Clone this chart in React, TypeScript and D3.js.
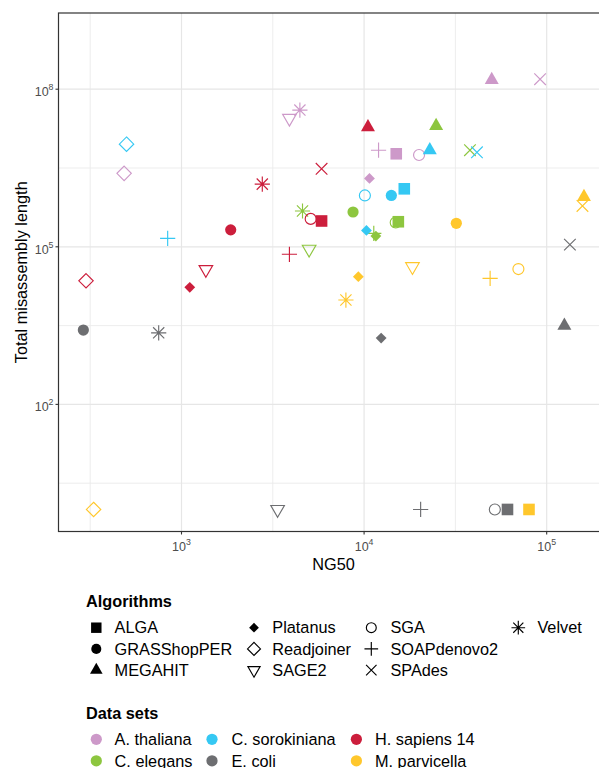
import React from "react";
import * as d3 from "d3";

// categories
const algorithms = ["ALGA", "GRASShopPER", "MEGAHIT", "Platanus", "Readjoiner", "SAGE2", "SGA", "SOAPdenovo2", "SPAdes", "Velvet"];
const datasets = ["A. thaliana", "C. elegans", "C. sorokiniana", "E. coli", "H. sapiens 14", "M. parvicella"];
const datasetColors = ["#CD99C9", "#8DC63F", "#35C8F3", "#6D6E71", "#CC1E3C", "#FFC72C"];

// [algorithm, NG50, total misassembly length] per data set
const aThaliana = [
  ["Readjoiner", 485, 2.5e6],
  ["SAGE2", 3900, 2.8e7],
  ["Velvet", 4450, 4.0e7],
  ["MEGAHIT", 50000, 1.5e8],
  ["SPAdes", 92000, 1.55e8],
  ["SOAPdenovo2", 12000, 6.9e6],
  ["ALGA", 15000, 5.9e6],
  ["SGA", 20000, 5.6e6],
  ["Platanus", 10700, 2.0e6],
];
const cElegans = [
  ["MEGAHIT", 24800, 2.0e7],
  ["SPAdes", 38000, 6.9e6],
  ["Velvet", 4600, 4.8e5],
  ["GRASShopPER", 8700, 4.6e5],
  ["SGA", 14900, 2.9e5],
  ["ALGA", 15400, 3.0e5],
  ["SOAPdenovo2", 11300, 1.8e5],
  ["Platanus", 11600, 1.6e5],
  ["SAGE2", 5000, 9.0e4],
];
const cSorokiniana = [
  ["Readjoiner", 500, 9.0e6],
  ["SOAPdenovo2", 840, 1.45e5],
  ["MEGAHIT", 22900, 6.9e6],
  ["SPAdes", 41500, 6.3e6],
  ["SGA", 10100, 9.5e5],
  ["GRASShopPER", 14100, 9.5e5],
  ["ALGA", 16600, 1.27e6],
  ["Platanus", 10300, 2.05e5],
];
const eColi = [
  ["SPAdes", 134000, 1.1e5],
  ["GRASShopPER", 290, 2600],
  ["Velvet", 750, 2300],
  ["Platanus", 12400, 1830],
  ["MEGAHIT", 125000, 3150],
  ["SAGE2", 3360, 1],
  ["SOAPdenovo2", 20400, 1],
  ["SGA", 52000, 1],
  ["ALGA", 61000, 1],
];
const hSapiens14 = [
  ["Readjoiner", 300, 22500],
  ["Platanus", 1110, 16900],
  ["SAGE2", 1360, 37000],
  ["GRASShopPER", 1860, 2.1e5],
  ["Velvet", 2770, 1.56e6],
  ["SOAPdenovo2", 3900, 72000],
  ["MEGAHIT", 10500, 1.9e7],
  ["SPAdes", 5850, 3.05e6],
  ["SGA", 5100, 3.4e5],
  ["ALGA", 5850, 3.1e5],
];
const mParvicella = [
  ["GRASShopPER", 32000, 2.8e5],
  ["MEGAHIT", 160000, 8.9e5],
  ["SPAdes", 157000, 6.0e5],
  ["SAGE2", 18400, 42000],
  ["Platanus", 9300, 27000],
  ["SOAPdenovo2", 49000, 25000],
  ["SGA", 70000, 37700],
  ["Velvet", 7950, 9700],
  ["Readjoiner", 330, 1],
  ["ALGA", 80000, 1],
];
const pointsByDataset = [aThaliana, cElegans, cSorokiniana, eColi, hSapiens14, mParvicella];

// tick exponents
const xTickExp = [3, 4, 5];
const yTickExp = [2, 5, 8];
const xMinorExp = [2.5, 3.5, 4.5];
const yMinorExp = [0.5, 3.5, 6.5];

const FONT = "'Liberation Sans', Arial, Helvetica, sans-serif";

// ggplot-like point shapes, returns path + whether filled
function shape(alg, k = 1) {
  const circ = (r) => `M${r},0A${r},${r} 0 1 1 ${-r},0A${r},${r} 0 1 1 ${r},0Z`;
  const tri = (w, dir) => {
    const r = w / Math.sqrt(3);
    return `M0,${-r * dir}L${w / 2},${(r / 2) * dir}L${-w / 2},${(r / 2) * dir}Z`;
  };
  const dia = (h) => `M0,${-h}L${h},0L0,${h}L${-h},0Z`;
  const plus = (h) => `M${-h},0H${h}M0,${-h}V${h}`;
  const cross = (h) => `M${-h},${-h}L${h},${h}M${-h},${h}L${h},${-h}`;
  switch (alg) {
    case "ALGA": { const h = 5.8 * k; return { d: `M${-h},${-h}H${h}V${h}H${-h}Z`, filled: true }; }
    case "GRASShopPER": return { d: circ(5.6 * k), filled: true };
    case "MEGAHIT": return { d: tri(14 * k, 1), filled: true };
    case "Platanus": return { d: dia(5.4 * k), filled: true };
    case "Readjoiner": return { d: dia(7.2 * k), filled: false };
    case "SAGE2": return { d: tri(13.6 * k, -1), filled: false };
    case "SGA": return { d: circ(5.5 * k), filled: false };
    case "SOAPdenovo2": return { d: plus(7.6 * k), filled: false };
    case "SPAdes": return { d: cross(5.8 * k), filled: false };
    default: return { d: plus(7.6 * k) + cross(5.6 * k), filled: false };
  }
}

function drawChart(svgRef) {
  const W = 599, H = 768;
  const PL = 58.5, PT = 13, PR = 608.5, PB = 531.5;
  const svg = d3.select(svgRef.current);
  svg.selectAll("*").remove();
  svg.attr("width", W).attr("height", H).style("font-family", FONT);

  svg.append("rect").attr("width", W).attr("height", H).attr("fill", "white");

  const x = d3.scaleLog().domain([10 ** 2.3264, 10 ** 5.3385]).range([PL, PR]);
  const y = d3.scaleLog().domain([10 ** -0.4196, 10 ** 9.4506]).range([PB, PT]);

  const grid = svg.append("g");
  grid.selectAll(".xmin").data(xMinorExp).join("line")
    .attr("x1", (d) => x(10 ** d)).attr("x2", (d) => x(10 ** d))
    .attr("y1", PT).attr("y2", PB).attr("stroke", "#EBEBEB").attr("stroke-width", 0.9);
  grid.selectAll(".ymin").data(yMinorExp).join("line")
    .attr("y1", (d) => y(10 ** d)).attr("y2", (d) => y(10 ** d))
    .attr("x1", PL).attr("x2", PR).attr("stroke", "#EBEBEB").attr("stroke-width", 0.9);
  grid.selectAll(".xmaj").data(xTickExp).join("line")
    .attr("x1", (d) => x(10 ** d)).attr("x2", (d) => x(10 ** d))
    .attr("y1", PT).attr("y2", PB).attr("stroke", "#E6E6E6").attr("stroke-width", 1.2);
  grid.selectAll(".ymaj").data(yTickExp).join("line")
    .attr("y1", (d) => y(10 ** d)).attr("y2", (d) => y(10 ** d))
    .attr("x1", PL).attr("x2", PR).attr("stroke", "#E6E6E6").attr("stroke-width", 1.2);

  // points
  const pts = svg.append("g");
  pointsByDataset.forEach((rows, i) => {
    const col = datasetColors[i];
    rows.forEach(([alg, ng50, mis]) => {
      const s = shape(alg);
      pts.append("path")
        .attr("d", s.d)
        .attr("transform", `translate(${x(ng50)},${y(mis)})`)
        .attr("fill", s.filled ? col : "none")
        .attr("stroke", s.filled ? "none" : col)
        .attr("stroke-width", 1.15);
    });
  });

  // panel border
  svg.append("rect").attr("x", PL).attr("y", PT).attr("width", PR - PL).attr("height", PB - PT)
    .attr("fill", "none").attr("stroke", "#333333").attr("stroke-width", 1.2);

  // ticks and labels
  const xt = svg.append("g");
  xTickExp.forEach((e) => {
    const px = x(10 ** e);
    xt.append("line").attr("x1", px).attr("x2", px).attr("y1", PB).attr("y2", PB + 3)
      .attr("stroke", "#333333").attr("stroke-width", 1.1);
    const t = xt.append("text").attr("x", px).attr("y", PB + 19.5).attr("text-anchor", "middle")
      .attr("fill", "#4D4D4D").attr("font-size", 12.5);
    t.append("tspan").text("10");
    t.append("tspan").attr("dy", -6).attr("font-size", 8.8).text(e);
  });
  const yt = svg.append("g");
  yTickExp.forEach((e) => {
    const py = y(10 ** e);
    yt.append("line").attr("x1", PL - 3).attr("x2", PL).attr("y1", py).attr("y2", py)
      .attr("stroke", "#333333").attr("stroke-width", 1.1);
    const t = yt.append("text").attr("x", PL - 5).attr("y", py + 6.8).attr("text-anchor", "end")
      .attr("fill", "#4D4D4D").attr("font-size", 12.5);
    t.append("tspan").text("10");
    t.append("tspan").attr("dy", -6).attr("font-size", 8.8).text(e);
  });

  // axis titles
  svg.append("text").attr("x", (PL + PR) / 2).attr("y", 570).attr("text-anchor", "middle")
    .attr("font-size", 16.3).attr("fill", "black").text("NG50");
  svg.append("text").attr("transform", `translate(27,${(PT + PB) / 2}) rotate(-90)`)
    .attr("text-anchor", "middle").attr("font-size", 16.3).attr("fill", "black")
    .text("Total misassembly length");

  // legend: algorithms (4 columns, filled by column)
  const lg = svg.append("g");
  lg.append("text").attr("x", 86).attr("y", 607.3).attr("font-size", 16.3).attr("font-weight", "bold")
    .text("Algorithms");
  const algKeyX = [96.3, 254, 371.3, 518.3];
  const algTextX = [114.6, 272.3, 390.4, 537.4];
  algorithms.forEach((alg, i) => {
    const c = Math.floor(i / 3), r = i % 3;
    const cy = 627.7 + r * 21.2;
    const s = shape(alg, 0.9);
    lg.append("path").attr("d", s.d).attr("transform", `translate(${algKeyX[c]},${cy})`)
      .attr("fill", s.filled ? "black" : "none").attr("stroke", s.filled ? "none" : "black")
      .attr("stroke-width", 1.15);
    lg.append("text").attr("x", algTextX[c]).attr("y", cy + 5.7).attr("font-size", 16.3).text(alg);
  });

  // legend: data sets (3 columns, filled by column)
  lg.append("text").attr("x", 86).attr("y", 719.3).attr("font-size", 16.3).attr("font-weight", "bold")
    .text("Data sets");
  const dsKeyX = [96.3, 212, 356.4];
  const dsTextX = [114.6, 231.5, 375];
  datasets.forEach((ds, i) => {
    const c = Math.floor(i / 2), r = i % 2;
    const cy = 739.3 + r * 21.5;
    lg.append("circle").attr("cx", dsKeyX[c]).attr("cy", cy).attr("r", 5.6).attr("fill", datasetColors[i]);
    lg.append("text").attr("x", dsTextX[c]).attr("y", cy + 5.7).attr("font-size", 16.3).text(ds);
  });
}

const App = () => {
  const svg = React.useRef(null);
  React.useEffect(() => {
    drawChart(svg);
  }, [svg]);
  return (
    <div style={{ position: "absolute", left: 0, top: 0, width: 599, height: 768, overflow: "hidden" }}>
      <svg ref={svg} style={{ display: "block" }} />
    </div>
  );
};

export default App;
